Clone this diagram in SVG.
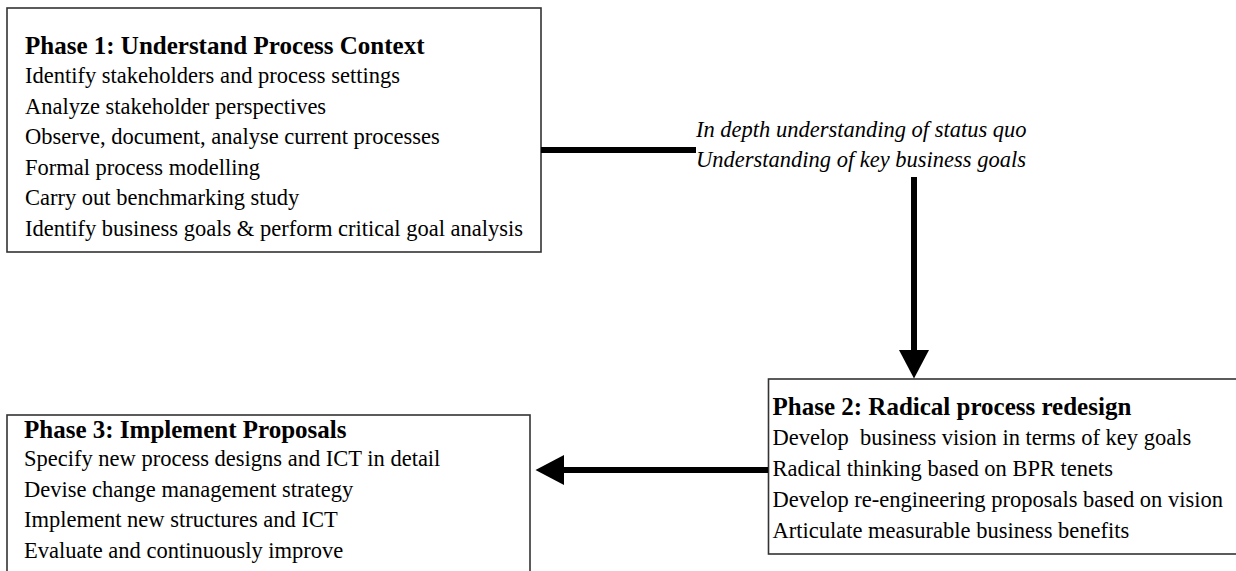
<svg xmlns="http://www.w3.org/2000/svg" width="1236" height="571" viewBox="0 0 1236 571">
<style>
.box{fill:#fff;stroke:#333;stroke-width:1.6}
.t{font-family:"Liberation Serif","Times New Roman",serif;font-size:25px;font-weight:bold;fill:#000}
.b{font-family:"Liberation Serif","Times New Roman",serif;font-size:22.5px;fill:#000;white-space:pre}
.lab{font-family:"Liberation Serif","Times New Roman",serif;font-size:22.5px;font-style:italic;fill:#000}
.con{stroke:#000;stroke-width:6;fill:none}
</style>
<defs>
<marker id="ah" markerUnits="userSpaceOnUse" markerWidth="30" markerHeight="30" viewBox="0 0 30 30" refX="1" refY="15" orient="auto">
<path d="M0,0 L28.5,15 L0,30 z" fill="#000"/>
</marker>
</defs>
<rect width="1236" height="571" fill="#fff"/>
<g id="phase1">
<rect class="box" x="7" y="8" width="534" height="244"/>
<text class="t" x="25" y="54">Phase 1: Understand Process Context</text>
<text class="b" x="25" y="83">Identify stakeholders and process settings</text>
<text class="b" x="25" y="113.5">Analyze stakeholder perspectives</text>
<text class="b" x="25" y="144">Observe, document, analyse current processes</text>
<text class="b" x="25" y="174.5">Formal process modelling</text>
<text class="b" x="25" y="205">Carry out benchmarking study</text>
<text class="b" x="25" y="235.5">Identify business goals &amp; perform critical goal analysis</text>
</g>
<g id="phase2">
<rect class="box" x="768.5" y="379" width="470" height="175"/>
<text class="t" x="772.5" y="415">Phase 2: Radical process redesign</text>
<text class="b" x="772.5" y="445">Develop  business vision in terms of key goals</text>
<text class="b" x="772.5" y="476">Radical thinking based on BPR tenets</text>
<text class="b" x="772.5" y="507">Develop re-engineering proposals based on vision</text>
<text class="b" x="772.5" y="537.5">Articulate measurable business benefits</text>
</g>
<g id="phase3">
<rect class="box" x="7" y="415" width="523" height="170"/>
<text class="t" x="24" y="437.5">Phase 3: Implement Proposals</text>
<text class="b" x="24" y="466">Specify new process designs and ICT in detail</text>
<text class="b" x="24" y="496.5">Devise change management strategy</text>
<text class="b" x="24" y="527">Implement new structures and ICT</text>
<text class="b" x="24" y="557.5">Evaluate and continuously improve</text>
</g>
<g id="connectors">
<line class="con" x1="541" y1="150" x2="696" y2="150"/>
<text class="lab" x="696" y="137">In depth understanding of status quo</text>
<text class="lab" x="696" y="167">Understanding of key business goals</text>
<line class="con" x1="914" y1="177" x2="914" y2="351" marker-end="url(#ah)"/>
<line class="con" x1="768" y1="470" x2="563" y2="470" marker-end="url(#ah)"/>
</g>
</svg>
